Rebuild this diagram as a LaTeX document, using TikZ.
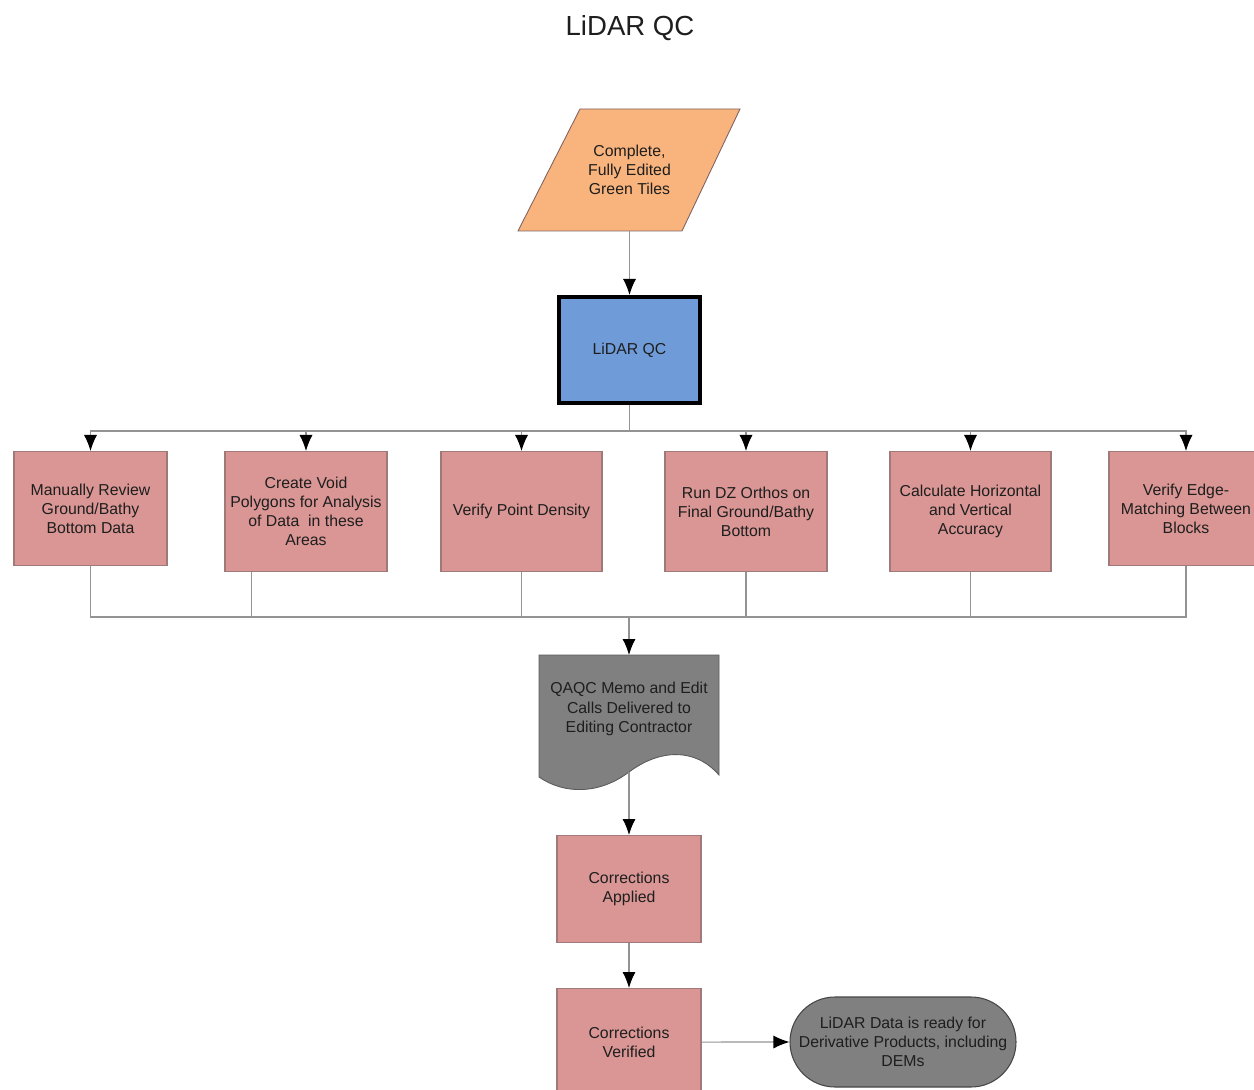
\documentclass[tikz,border=0pt]{standalone}
\usepackage{fontspec}
\setmainfont{Liberation Sans}
\usetikzlibrary{arrows,arrows.meta}
\usetikzlibrary{positioning}

\definecolor{tileorange}{HTML}{F9B47D}
\definecolor{qcblue}{HTML}{6F9CD9}
\definecolor{taskpink}{HTML}{D99694}
\definecolor{taskedge}{HTML}{A07A78}
\definecolor{docgray}{HTML}{808080}
\definecolor{wiregray}{HTML}{939393}
\definecolor{inkgray}{HTML}{1E1E1E}

\begin{document}
\begin{tikzpicture}
	[
	> = latex,
	label/.style = {text=inkgray, align=center, font=\fontsize{9}{10.9}\selectfont},
	task/.style = {label, draw=taskedge, fill=taskpink, line width=0.6pt, anchor=north, inner sep=2pt},
	wire/.style = {draw=wiregray, line width=0.6pt},
	flow/.style = {wire, -{Latex[black,length=3.2mm,width=2.6mm]}}
	]
	\clip (0,0) rectangle (25.08,-21.8);

	\node[text=inkgray, font=\fontsize{15.7}{19}\selectfont] (title) at (12.6,-0.56) {LiDAR QC};

	\draw[draw=taskedge!80!black, fill=tileorange, line width=0.5pt]
		(10.36,-4.62) -- (13.64,-4.62) -- (14.8,-2.18) -- (11.6,-2.18) -- cycle;
	\node[label, minimum width=3.2cm, minimum height=2.44cm] (tiles) at (12.59,-3.4)
		{Complete,\\Fully Edited\\Green Tiles};

	\node[label, draw=black, fill=qcblue, line width=2.3pt, minimum width=2.82cm, minimum height=2.12cm]
		(qc) at (12.59,-7.0) {LiDAR QC};

	\node[task, minimum width=3.06cm, minimum height=2.28cm] (review) at (1.81,-9.02)
		{Manually Review\\Ground/Bathy\\Bottom Data};
	\node[task, minimum width=3.24cm, minimum height=2.4cm] (voids) at (6.12,-9.02)
		{Create Void\\Polygons for Analysis\\of Data\ \ in these\\Areas};
	\node[task, minimum width=3.22cm, minimum height=2.4cm] (density) at (10.43,-9.02)
		{Verify Point Density};
	\node[task, minimum width=3.24cm, minimum height=2.4cm] (orthos) at (14.92,-9.02)
		{Run DZ Orthos on\\Final Ground/Bathy\\Bottom};
	\node[task, minimum width=3.22cm, minimum height=2.4cm] (accuracy) at (19.41,-9.02)
		{Calculate Horizontal\\and Vertical\\Accuracy};
	\node[task, minimum width=3.08cm, minimum height=2.28cm] (edges) at (23.72,-9.02)
		{Verify Edge-\\Matching Between\\Blocks};

	\draw[draw=docgray!70!black, fill=docgray, line width=0.5pt]
		(10.78,-13.1) -- (14.38,-13.1) -- (14.38,-15.5)
		.. controls (13.9,-14.95) and (13.2,-14.98) .. (12.58,-15.44)
		.. controls (12.0,-15.88) and (11.3,-15.9) .. (10.78,-15.54) -- cycle;
	\node[label, minimum width=3.6cm] (memo) at (12.58,-14.18)
		{QAQC Memo and Edit\\Calls Delivered to\\Editing Contractor};
	\coordinate (memo end) at (12.58,-15.44);

	\node[task, minimum width=2.88cm, minimum height=2.14cm] (applied) at (12.58,-16.7)
		{Corrections\\Applied};
	\node[task, minimum width=2.88cm, minimum height=2.14cm] (verified) at (12.58,-19.76)
		{Corrections\\Verified};

	\node[label, draw=docgray!55!black, fill=docgray, line width=0.6pt, rounded corners=0.9cm,
		minimum width=4.52cm, minimum height=1.8cm] (ready) at (18.06,-20.84)
		{LiDAR Data is ready for\\Derivative Products, including\\DEMs};

	\coordinate (top bus) at (12.59,-8.62);
	\coordinate (low bus) at (12.58,-12.34);

	\draw[flow] (tiles.south) -- (qc.north);
	\draw[wire] (qc.south) -- (top bus);
	\foreach \t in {review,voids,density,orthos,accuracy,edges}
		\draw[flow] (top bus) -| (\t.north);

	\draw[wire] (review.south) |- (low bus);
	\draw[wire] ([xshift=0.54cm]voids.south west) |- (low bus);
	\draw[wire] (density.south) |- (low bus);
	\draw[wire] (orthos.south) |- (low bus);
	\draw[wire] (accuracy.south) |- (low bus);
	\draw[wire] (edges.south) |- (low bus);
	\draw[flow] (low bus) -- (12.58,-13.1);

	\draw[flow] (memo end) -- (applied.north);
	\draw[flow] (applied.south) -- (verified.north);
	\draw[flow] (verified.east) -- (ready.west);
\end{tikzpicture}
\end{document}
